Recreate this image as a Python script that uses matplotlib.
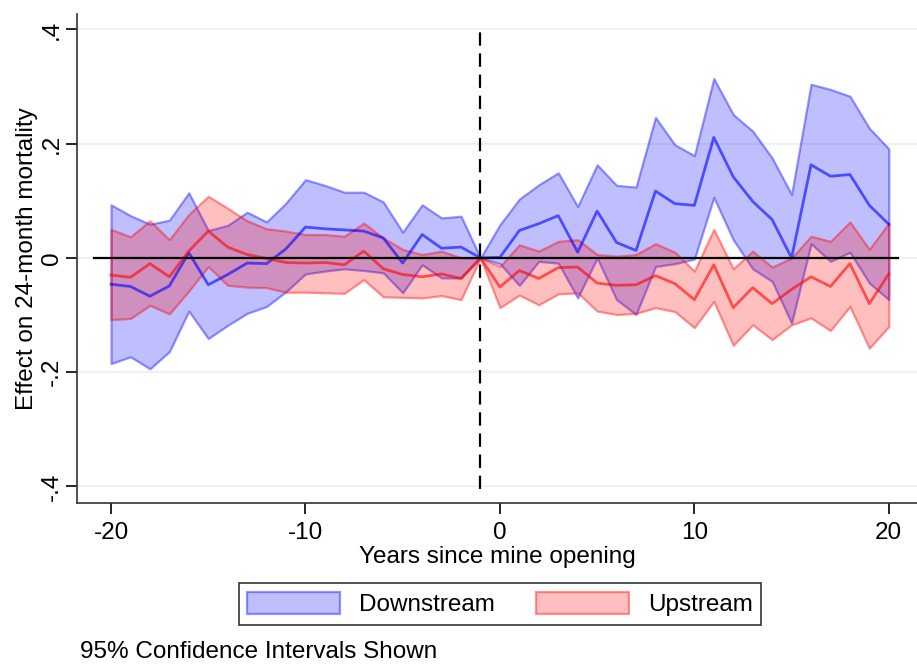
import numpy as np
import matplotlib
matplotlib.use("Agg")
import matplotlib.pyplot as plt
from matplotlib.patches import Patch

plt.rcParams['font.family'] = ['Liberation Sans', 'DejaVu Sans']
plt.rcParams['axes.unicode_minus'] = False

years = list(range(-20, 21))

# downstream: point estimate and 95% CI
down_est = [-0.046, -0.050, -0.067, -0.049, 0.009, -0.047, -0.029, -0.009, -0.010, 0.016,
            0.054, 0.051, 0.049, 0.047, 0.035, -0.009, 0.041, 0.017, 0.019, 0.0,
            0.001, 0.048, 0.060, 0.074, 0.010, 0.082, 0.027, 0.013, 0.117, 0.095,
            0.092, 0.211, 0.142, 0.099, 0.067, 0.0, 0.163, 0.143, 0.146, 0.092, 0.059]
down_hi = [0.093, 0.074, 0.059, 0.066, 0.114, 0.048, 0.057, 0.080, 0.063, 0.096,
           0.137, 0.127, 0.115, 0.115, 0.098, 0.045, 0.093, 0.070, 0.073, 0.0,
           0.058, 0.103, 0.128, 0.149, 0.090, 0.163, 0.127, 0.124, 0.246, 0.198,
           0.179, 0.314, 0.251, 0.222, 0.175, 0.111, 0.304, 0.295, 0.283, 0.227, 0.191]
down_lo = [-0.185, -0.173, -0.194, -0.164, -0.093, -0.141, -0.118, -0.097, -0.085, -0.059,
           -0.028, -0.023, -0.019, -0.022, -0.026, -0.061, -0.012, -0.035, -0.035, 0.0,
           -0.010, -0.048, -0.006, -0.009, -0.070, 0.0, -0.073, -0.099, -0.015, -0.010,
           -0.002, 0.106, 0.032, -0.019, -0.041, -0.114, 0.025, -0.006, 0.010, -0.044, -0.073]

# upstream: point estimate and 95% CI
up_est = [-0.030, -0.034, -0.010, -0.033, 0.012, 0.047, 0.019, 0.006, -0.001, -0.008,
          -0.009, -0.008, -0.012, 0.012, -0.019, -0.029, -0.033, -0.028, -0.036, 0.0,
          -0.051, -0.022, -0.036, -0.017, -0.016, -0.044, -0.048, -0.047, -0.031, -0.045,
          -0.073, -0.012, -0.087, -0.052, -0.080, -0.055, -0.033, -0.050, -0.010, -0.080, -0.028]
up_hi = [0.050, 0.037, 0.065, 0.032, 0.076, 0.108, 0.087, 0.065, 0.051, 0.047,
         0.041, 0.041, 0.038, 0.061, 0.035, 0.015, 0.006, 0.012, 0.0, 0.0,
         -0.015, 0.023, 0.012, 0.029, 0.032, 0.006, 0.003, 0.006, 0.025, 0.010,
         -0.023, 0.050, -0.019, 0.012, -0.016, 0.0, 0.038, 0.029, 0.063, 0.015, 0.061]
up_lo = [-0.108, -0.106, -0.083, -0.098, -0.058, -0.015, -0.048, -0.051, -0.052, -0.060,
         -0.060, -0.061, -0.062, -0.038, -0.068, -0.069, -0.070, -0.066, -0.073, 0.0,
         -0.087, -0.065, -0.082, -0.063, -0.061, -0.093, -0.099, -0.097, -0.087, -0.094,
         -0.122, -0.076, -0.153, -0.117, -0.143, -0.117, -0.105, -0.127, -0.085, -0.158, -0.120]

yticks = [-0.4, -0.2, 0, 0.2, 0.4]
ytick_labels = ['-.4', '-.2', '0', '.2', '.4']
xticks = [-20, -10, 0, 10, 20]

fs = 17.5

fig = plt.figure(figsize=(9.17, 6.64), dpi=100)
ax = fig.add_axes([77 / 917, 1 - 503 / 664, 840 / 917, 489 / 664])

for y in yticks:
    ax.axhline(y, color='#eaf2f3', lw=1.3, zorder=0)

blue_face = (0, 0, 1, 0.25)
blue_edge = (0, 0, 1, 0.4)
red_face = (1, 0, 0, 0.25)
red_edge = (1, 0, 0, 0.4)

ax.fill_between(years, down_lo, down_hi, facecolor=blue_face, edgecolor=blue_edge, lw=1.6, zorder=2)
ax.plot(years, down_est, color=(0, 0, 1, 0.6), lw=2, zorder=3)
ax.fill_between(years, up_lo, up_hi, facecolor=red_face, edgecolor=red_edge, lw=1.6, zorder=2)
ax.plot(years, up_est, color=(1, 0, 0, 0.6), lw=2, zorder=3)

ax.plot([-20.9, 20.45], [0, 0], color='black', lw=1.6, zorder=4)
ax.plot([-1, -1], [-0.405, 0.405], color='black', lw=1.6, ls=(0, (6, 3.5)), zorder=4)

ax.set_xlim(-21.75, 21.45)
ax.set_ylim(-0.429, 0.427)
ax.set_xticks(xticks)
ax.set_yticks(yticks)
ax.set_yticklabels(ytick_labels, rotation=90, va='center')
ax.tick_params(labelsize=fs, length=8, width=1.2, color='black')
ax.tick_params(axis='x', pad=6)
ax.tick_params(axis='y', pad=2)
for side in ['top', 'right']:
    ax.spines[side].set_visible(False)
for side in ['left', 'bottom']:
    ax.spines[side].set_linewidth(1.2)
    ax.spines[side].set_color('#333333')

ax.set_xlabel('Years since mine opening', fontsize=fs, labelpad=1)
ax.set_ylabel('Effect on 24-month mortality', fontsize=fs, labelpad=2)

handles = [Patch(facecolor=blue_face, edgecolor=blue_edge, lw=1.6, label='Downstream'),
           Patch(facecolor=red_face, edgecolor=red_edge, lw=1.6, label='Upstream')]
leg = fig.legend(handles=handles, loc='center', bbox_to_anchor=(500 / 917, 1 - 604 / 664),
                 ncol=2, fontsize=fs, frameon=True, fancybox=False, edgecolor='black',
                 handlelength=3.8, handleheight=1.0, handletextpad=0.8, columnspacing=1.7,
                 borderpad=0.35, borderaxespad=0)
leg.get_frame().set_linewidth(1.2)

fig.text(80 / 917, 1 - 652 / 664, '95% Confidence Intervals Shown', fontsize=fs, va='center', ha='left')

fig.savefig('out.png', dpi=100, facecolor='white')
